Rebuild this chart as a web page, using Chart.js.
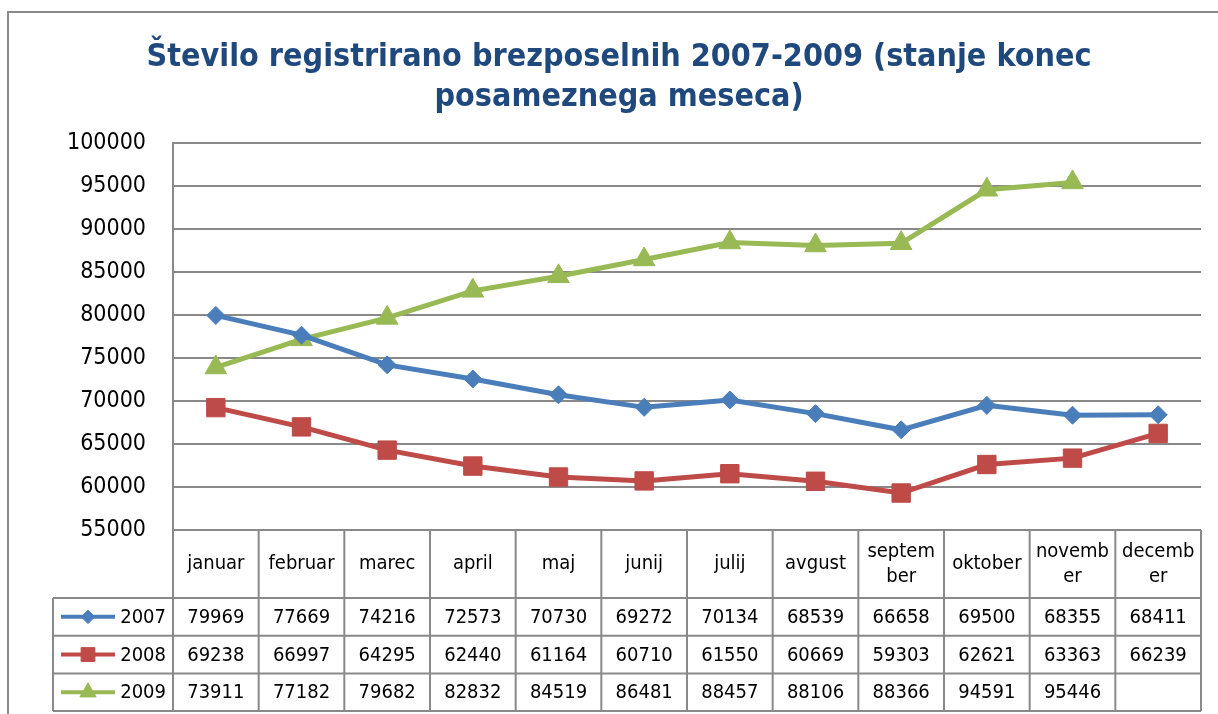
<!DOCTYPE html>
<html>
<head>
<meta charset="utf-8">
<script src="https://cdn.jsdelivr.net/npm/chart.js@4/dist/chart.umd.min.js"></script>
<style>
  body { margin: 0; background: #fff; }
  #wrap { width: 1218px; height: 714px; position: relative; }
</style>
</head>
<body>
<div id="wrap"><canvas id="grafica"></canvas></div>
<script>
// podatki
const months = ['januar', 'februar', 'marec', 'april', 'maj', 'junij', 'julij', 'avgust', 'september', 'oktober', 'november', 'december'];
const seriesNames = ['2007', '2008', '2009'];
const v2007 = [79969, 77669, 74216, 72573, 70730, 69272, 70134, 68539, 66658, 69500, 68355, 68411];
const v2008 = [69238, 66997, 64295, 62440, 61164, 60710, 61550, 60669, 59303, 62621, 63363, 66239];
const v2009 = [73911, 77182, 79682, 82832, 84519, 86481, 88457, 88106, 88366, 94591, 95446, null];
const yMin = 55000, yMax = 100000, yStep = 5000;
const titleLines = ['Število registrirano brezposelnih 2007-2009 (stanje konec', 'posameznega meseca)'];

const FONT = "'DejaVu Sans Condensed', 'DejaVu Sans', sans-serif";
const GRID = '#898989';
const colors = ['#4a7ebb', '#be4b48', '#98b954'];
const styles = ['rectRot', 'rect', 'triangle'];
const radii = [9, 13, 12.5];

// razbije besedo po znakih, ce ne gre v celico (kot Excel)
function wrapChars(ctx, s, maxW) {
  const out = [];
  let cur = '';
  for (const ch of s) {
    if (ctx.measureText(cur + ch).width > maxW && cur) { out.push(cur); cur = ch; }
    else cur += ch;
  }
  out.push(cur);
  return out;
}

const frame = {
  id: 'frame',
  beforeDraw(chart) {
    const ctx = chart.ctx;
    ctx.save();
    ctx.strokeStyle = '#8a8a8a';
    ctx.lineWidth = 2;
    ctx.strokeRect(8, 12, 1230, 720);
    ctx.restore();
  }
};

const table = {
  id: 'dataTable',
  afterDraw(chart) {
    const ctx = chart.ctx, area = chart.chartArea, xs = chart.scales.x;
    const step = xs.getPixelForValue(1) - xs.getPixelForValue(0);
    const top = area.bottom, headH = 68, rowH = 37.7, legLeft = 53;
    const bottom = top + headH + rowH * 3;
    const all = [v2007, v2008, v2009];

    ctx.save();
    ctx.strokeStyle = GRID;
    ctx.lineWidth = 2;
    ctx.beginPath();
    ctx.moveTo(area.left, top); ctx.lineTo(area.right, top);
    for (let r = 0; r <= 3; r++) {
      const y = top + headH + r * rowH;
      ctx.moveTo(legLeft, y); ctx.lineTo(area.right, y);
    }
    for (let i = 0; i <= months.length; i++) {
      const x = xs.getPixelForValue(0) - step / 2 + i * step;
      ctx.moveTo(x, top); ctx.lineTo(x, bottom);
    }
    ctx.moveTo(legLeft, top + headH); ctx.lineTo(legLeft, bottom);
    ctx.stroke();

    ctx.fillStyle = '#000';
    ctx.font = '20px ' + FONT;
    ctx.textAlign = 'center';
    ctx.textBaseline = 'middle';
    months.forEach((m, i) => {
      const cx = xs.getPixelForValue(i);
      const lines = wrapChars(ctx, m, step - 10);
      const lh = 25;
      const y0 = top + headH / 2 - (lines.length - 1) * lh / 2;
      lines.forEach((l, k) => ctx.fillText(l, cx, y0 + k * lh));
      all.forEach((arr, r) => {
        if (arr[i] != null) ctx.fillText(String(arr[i]), cx, top + headH + r * rowH + rowH / 2 + 1);
      });
    });

    // legenda v tabeli
    seriesNames.forEach((n, r) => {
      const cy = top + headH + r * rowH + rowH / 2;
      ctx.strokeStyle = colors[r];
      ctx.lineWidth = 4;
      ctx.beginPath();
      ctx.moveTo(legLeft + 8, cy); ctx.lineTo(legLeft + 62, cy);
      ctx.stroke();
      ctx.fillStyle = colors[r];
      ctx.strokeStyle = colors[r];
      ctx.lineWidth = 1;
      Chart.helpers.drawPoint(ctx, { pointStyle: styles[r], radius: radii[r] * 0.75, rotation: 0, borderWidth: 1 }, legLeft + 35, cy);
      ctx.fillStyle = '#000';
      ctx.textAlign = 'right';
      ctx.fillText(n, area.left - 7, cy + 1);
    });
    ctx.restore();
  }
};

const graph = document.querySelector('#grafica');

const data = {
  labels: months,
  datasets: [v2007, v2008, v2009].map((arr, i) => ({
    label: seriesNames[i],
    data: arr,
    borderColor: colors[i],
    backgroundColor: colors[i],
    borderWidth: 5,
    pointStyle: styles[i],
    pointRadius: radii[i],
    pointHoverRadius: radii[i],
    pointBorderWidth: 1,
    pointBackgroundColor: colors[i],
    pointBorderColor: colors[i],
    tension: 0,
    spanGaps: false
  }))
};

const config = {
  type: 'line',
  data: data,
  plugins: [frame, table],
  options: {
    responsive: true,
    maintainAspectRatio: false,
    animation: false,
    layout: { padding: { left: 37, right: 17, top: 0, bottom: 184 } },
    plugins: {
      legend: { display: false },
      tooltip: { enabled: false },
      title: {
        display: true,
        text: titleLines,
        color: '#1f497d',
        font: { family: FONT, size: 32, weight: 'bold', lineHeight: 1.27 },
        padding: { top: 37, bottom: 25 }
      }
    },
    scales: {
      x: { display: false, offset: true },
      y: {
        min: yMin,
        max: yMax,
        afterFit(scale) { scale.width = 136; },
        ticks: {
          stepSize: yStep,
          color: '#000',
          padding: 27,
          font: { family: FONT, size: 23 },
          callback: (v) => String(v)
        },
        grid: { color: GRID, lineWidth: 2, drawTicks: false },
        border: { color: GRID, width: 2 }
      }
    }
  }
};
new Chart(graph, config);
</script>
</body>
</html>
